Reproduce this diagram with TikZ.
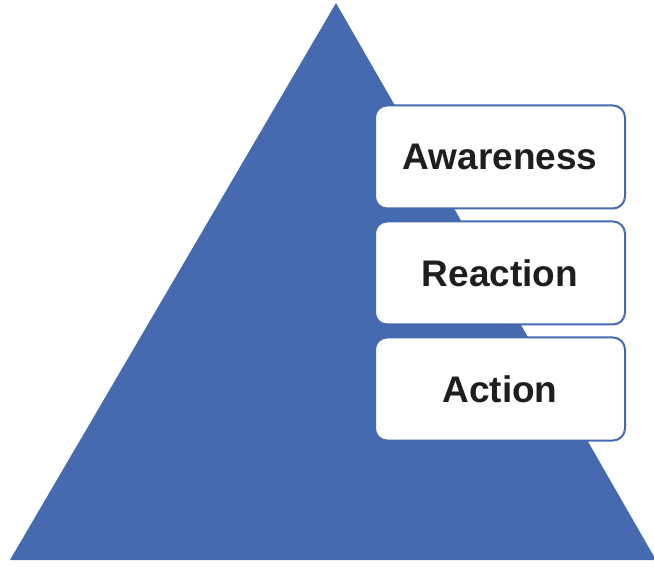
\documentclass[tikz,border=0pt]{standalone}
\usepackage{fontspec}
\setmainfont{Liberation Sans}
\usepackage{tikz}
\usetikzlibrary{positioning}
\definecolor{pyrblue}{RGB}{69,106,175}
\definecolor{txtgray}{RGB}{30,30,30}
\tikzset{
  stage/.style={draw=pyrblue, line width=2pt, fill=white, rounded corners=12pt,
    minimum width=250pt, minimum height=103pt, inner sep=0pt,
    font=\fontsize{37}{44}\selectfont\bfseries, text=txtgray}
}

\begin{document}
\begin{tikzpicture}[x=1pt, y=1pt, node distance=11pt]
    \useasboundingbox (0, 0) rectangle (654, 566);
    \coordinate (top) at (336, 563);
    \coordinate (left) at (10, 6);
    \coordinate (right) at (656, 6);
    \fill [pyrblue] (left) -- (top) -- (right) -- cycle;
    \node [stage] (aw) at (500, 409) {Awareness};
    \node [stage, below=of aw] (re) {Reaction};
    \node [stage, below=of re] (ac) {Action};
  \end{tikzpicture}
\end{document}
